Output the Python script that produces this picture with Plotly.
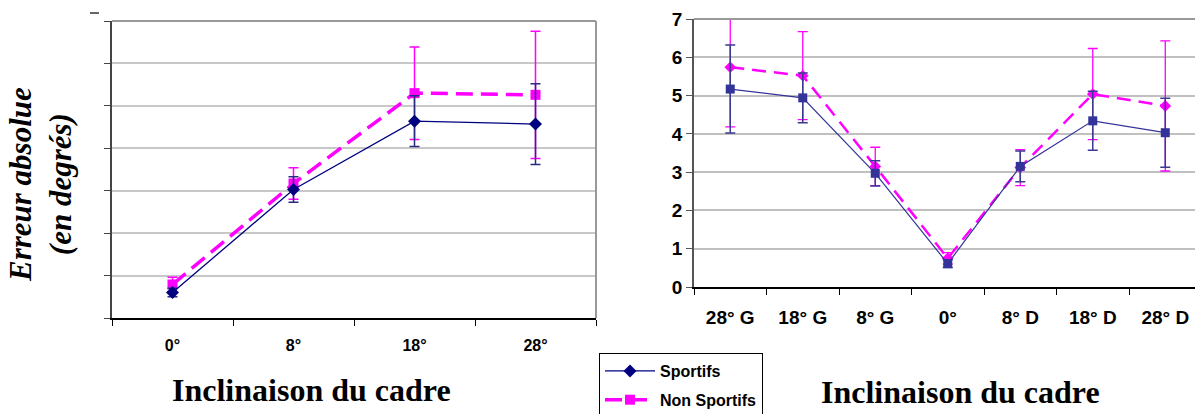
import plotly.graph_objects as go

W, H = 1195, 414

# ---- data ----
cats_left = ["0°", "8°", "18°", "28°"]
sport_left = [0.60, 3.03, 4.64, 4.57]
sport_left_err = [0.10, 0.30, 0.60, 0.95]
nonsport_left = [0.79, 3.17, 5.30, 5.26]
nonsport_left_err = [0.17, 0.37, 1.09, 1.50]

cats_right = ["28° G", "18° G", "8° G", "0°", "8° D", "18° D", "28° D"]
sport_right = [5.17, 4.94, 2.97, 0.61, 3.15, 4.34, 4.03]
sport_right_err = [1.15, 0.65, 0.33, 0.10, 0.40, 0.77, 0.90]
nonsport_right = [5.74, 5.52, 3.15, 0.75, 3.12, 5.04, 4.73]
nonsport_right_err = [1.56, 1.15, 0.50, 0.15, 0.47, 1.19, 1.70]

y_ticks = [0, 1, 2, 3, 4, 5, 6, 7]

NAVY = "#000080"
NAVY2 = "#333399"
MAG = "#FF00FF"

def px_x(x):
    return x / W

def px_y(y):
    return 1 - y / H

fig = go.Figure()

# left chart
fig.add_trace(go.Scatter(
    x=cats_left, y=nonsport_left, name="Non Sportifs", xaxis="x", yaxis="y",
    mode="lines+markers", legendrank=2, legendgroup="ns",
    line=dict(color=MAG, width=3.5, dash="17px,8px"),
    marker=dict(symbol="square", size=10, color=MAG),
    error_y=dict(type="data", array=nonsport_left_err, color=MAG, thickness=1.5, width=5),
))
fig.add_trace(go.Scatter(
    x=cats_left, y=sport_left, name="Sportifs", xaxis="x", yaxis="y",
    mode="lines+markers", legendrank=1, legendgroup="s",
    line=dict(color=NAVY, width=1.3),
    marker=dict(symbol="diamond", size=10, color=NAVY),
    error_y=dict(type="data", array=sport_left_err, color="#2a2a80", thickness=1.5, width=5),
))

# right chart
fig.add_trace(go.Scatter(
    x=cats_right, y=nonsport_right, name="Non Sportifs", xaxis="x2", yaxis="y2",
    mode="lines+markers", showlegend=False, legendgroup="ns",
    line=dict(color=MAG, width=2.5, dash="14px,8px"),
    marker=dict(symbol="diamond", size=9, color=MAG),
    error_y=dict(type="data", array=nonsport_right_err, color=MAG, thickness=1.3, width=5),
))
fig.add_trace(go.Scatter(
    x=cats_right, y=sport_right, name="Sportifs", xaxis="x2", yaxis="y2",
    mode="lines+markers", showlegend=False, legendgroup="s",
    line=dict(color=NAVY2, width=1.2),
    marker=dict(symbol="square", size=9, color=NAVY2),
    error_y=dict(type="data", array=sport_right_err, color="#3a3a90", thickness=1.5, width=5),
))

tickfont_l = dict(family="Liberation Sans", size=16, color="black", weight="bold")
tickfont_r = dict(family="Liberation Sans", size=19, color="black", weight="bold")

fig.update_layout(
    width=W, height=H,
    margin=dict(l=0, r=0, t=0, b=0, autoexpand=False),
    paper_bgcolor="white", plot_bgcolor="white",
    showlegend=True,
    legend=dict(
        x=px_x(599), y=px_y(353), xanchor="left", yanchor="top",
        bordercolor="black", borderwidth=1, bgcolor="white",
        font=dict(family="Liberation Sans", size=16, color="black", weight="bold"),
        tracegroupgap=5, itemwidth=50,
    ),
    xaxis=dict(
        domain=[px_x(112), px_x(596)], anchor="y", automargin=False,
        type="category", range=[-0.5, 3.5],
        showline=True, linecolor="black", linewidth=1.5,
        ticks="outside", ticklen=6, tickcolor="black", tickson="boundaries",
        tickfont=tickfont_l, showgrid=False, ticklabelstandoff=12,
    ),
    yaxis=dict(
        domain=[px_y(318), px_y(21)], anchor="x", automargin=False,
        range=[0, 7], tickvals=y_ticks, showticklabels=False,
        showline=True, linecolor="#444444", linewidth=2,
        ticks="outside", ticklen=6, tickcolor="#444444",
        showgrid=True, gridcolor="#c8c8c8", gridwidth=1.5, zeroline=False,
    ),
    xaxis2=dict(
        domain=[px_x(694), 1.0], anchor="y2", automargin=False,
        type="category", range=[-0.5, 6.41],
        showline=True, linecolor="black", linewidth=1.5,
        ticks="outside", ticklen=6, tickcolor="black", tickson="boundaries",
        tickfont=tickfont_r, showgrid=False, ticklabelstandoff=12,
    ),
    yaxis2=dict(
        domain=[px_y(287), px_y(19)], anchor="x2", automargin=False,
        range=[0, 7], tickvals=y_ticks,
        showline=True, linecolor="#555555", linewidth=1.5,
        ticks="outside", ticklen=6, tickcolor="#555555",
        tickfont=tickfont_r,
        showgrid=True, gridcolor="#c0c0c0", gridwidth=1.5, zeroline=False,
    ),
)

# frame of left chart (top and right gray)
fig.add_shape(type="line", xref="paper", yref="paper",
              x0=px_x(112), x1=px_x(596), y0=px_y(21), y1=px_y(21),
              line=dict(color="#999999", width=2))
fig.add_shape(type="line", xref="paper", yref="paper",
              x0=px_x(596), x1=px_x(596), y0=px_y(318), y1=px_y(21),
              line=dict(color="#999999", width=2))
# top line of right chart
fig.add_shape(type="line", xref="paper", yref="paper",
              x0=px_x(694), x1=1.0, y0=px_y(19), y1=px_y(19),
              line=dict(color="#999999", width=2))
# small stray mark top-left
fig.add_shape(type="line", xref="paper", yref="paper",
              x0=px_x(90), x1=px_x(99), y0=px_y(13), y1=px_y(13),
              line=dict(color="#333333", width=1.5))

title_font = dict(family="Liberation Serif", size=32, color="black", weight="bold")
fig.add_annotation(text="Inclinaison du cadre", xref="paper", yref="paper",
                   x=px_x(311), y=px_y(390), showarrow=False,
                   xanchor="center", yanchor="middle", font=title_font)
fig.add_annotation(text="Inclinaison du cadre", xref="paper", yref="paper",
                   x=px_x(960), y=px_y(392), showarrow=False,
                   xanchor="center", yanchor="middle", font=title_font)
fig.add_annotation(text="Erreur absolue<br>(en degrés)", xref="paper", yref="paper",
                   x=px_x(40), y=px_y(185), showarrow=False, textangle=-90,
                   xanchor="center", yanchor="middle",
                   font=dict(family="Liberation Serif", size=31, color="black",
                             weight="bold", style="italic"))

fig.write_html(
    "out.html",
    config={"displayModeBar": False},
    post_script="document.body.style.margin='0px';document.body.style.overflow='hidden';",
)
